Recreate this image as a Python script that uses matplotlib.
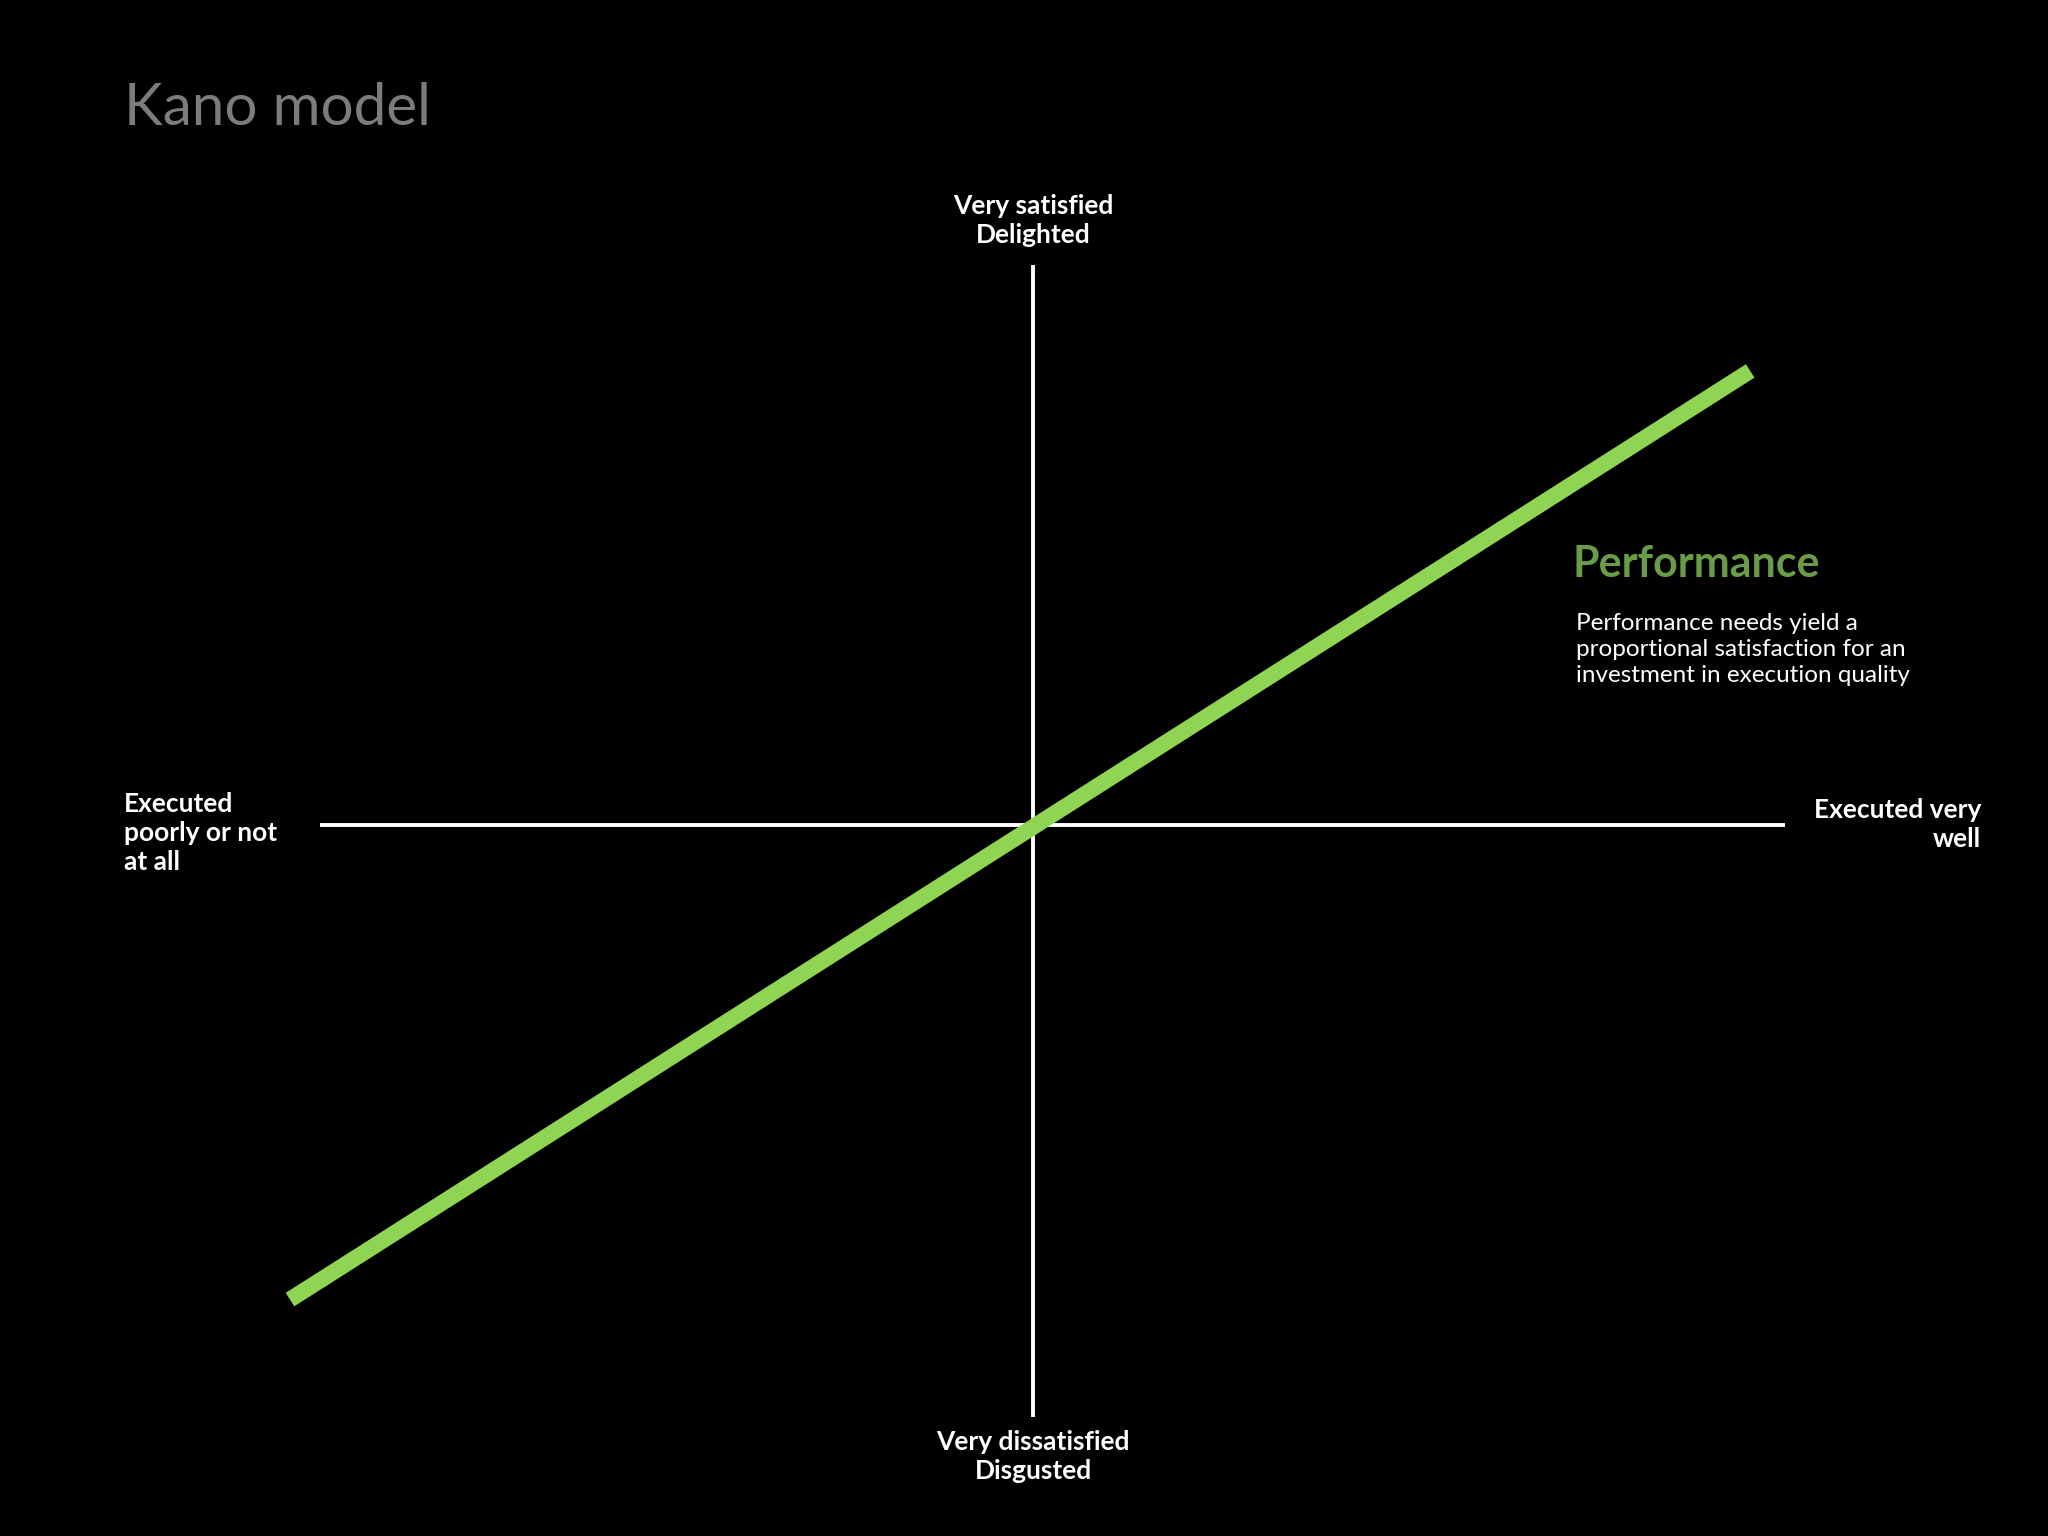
import matplotlib
matplotlib.use("Agg")
import matplotlib.pyplot as plt

# Geometry in reference pixel units (1568x1176 canvas)
h_axis_x = [245, 1367]
h_axis_y = [632, 632]
v_axis_x = [791, 791]
v_axis_y = [203, 1085]
perf_x = [222, 1340]
perf_y = [995, 284]

fig = plt.figure(figsize=(20.48, 15.36), dpi=100, facecolor="black")
ax = fig.add_axes([0, 0, 1, 1])
ax.set_facecolor("black")
ax.set_xlim(0, 1568)
ax.set_ylim(1176, 0)
ax.axis("off")

ax.plot(h_axis_x, h_axis_y, color="white", lw=2.8, solid_capstyle="butt")
ax.plot(v_axis_x, v_axis_y, color="white", lw=2.8, solid_capstyle="butt")
ax.plot(perf_x, perf_y, color="#8fd453", lw=11.5, solid_capstyle="butt")

ff = "Lato"
ax.text(95, 83, "Kano model", color="#7c7c7c", fontsize=42, family=ff, va="center", ha="left")
kw = dict(color="white", fontsize=19, family=ff, fontweight="bold", linespacing=1.25)
ax.text(791, 169, "Very satisfied\nDelighted", ha="center", va="center", **kw)
ax.text(791, 1115, "Very dissatisfied\nDisgusted", ha="center", va="center", **kw)
ax.text(95, 638, "Executed\npoorly or not\nat all", ha="left", va="center", **kw)
ax.text(1517, 631, "Executed very\nwell", ha="right", va="center", multialignment="right", **kw)
ax.text(1204, 432, "Performance", color="#6a9c48", fontsize=31, family=ff, fontweight="bold", ha="left", va="center")
ax.text(1207, 497, "Performance needs yield a\nproportional satisfaction for an\ninvestment in execution quality",
        color="white", fontsize=17.5, family=ff, ha="left", va="center", linespacing=1.3)

fig.savefig("out.png", dpi=100, facecolor="black")
